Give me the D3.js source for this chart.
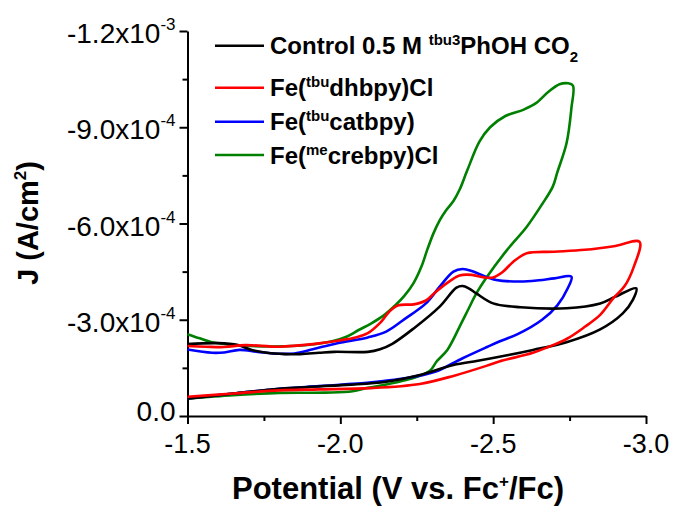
<!DOCTYPE html>
<html>
<head>
<meta charset="utf-8">
<script src="https://cdn.jsdelivr.net/npm/d3@7"></script>
<style>
  html, body { margin: 0; padding: 0; background: #ffffff; }
  svg { display: block; font-family: "Liberation Sans", Arial, Helvetica, sans-serif; }
</style>
</head>
<body>
<svg id="chart" width="688" height="506"></svg>
<script>
// ---- series: [potential (V vs. Fc+/Fc), current density (A/cm²)] ----
// each scan runs from -1.5 V out to the switching potential and back
const controlScan = [
  [-1.50, -2.24e-4], [-1.60, -2.27e-4], [-1.665, -2.21e-4], [-1.71, -2.06e-4],
  [-1.76, -1.97e-4], [-1.82, -1.93e-4], [-1.87, -1.93e-4], [-1.93, -1.97e-4],
  [-1.98, -2.00e-4], [-2.09, -2.00e-4], [-2.13, -2.08e-4], [-2.17, -2.25e-4],
  [-2.24, -2.73e-4], [-2.325, -3.41e-4], [-2.38, -4.00e-4], [-2.40, -4.05e-4],
  [-2.42, -3.98e-4], [-2.445, -3.82e-4], [-2.50, -3.51e-4], [-2.59, -3.39e-4],
  [-2.74, -3.36e-4], [-2.85, -3.51e-4], [-2.90, -3.72e-4], [-2.968, -3.98e-4],
  [-2.957, -3.62e-4], [-2.924, -3.20e-4], [-2.85, -2.70e-4], [-2.74, -2.30e-4],
  [-2.63, -2.06e-4], [-2.55, -1.90e-4], [-2.45, -1.72e-4], [-2.37, -1.59e-4],
  [-2.26, -1.28e-4], [-2.15, -1.07e-4], [-2.02, -0.97e-4], [-1.80, -0.85e-4],
  [-1.65, -0.70e-4], [-1.50, -0.54e-4]
];

const dhbpyScan = [
  [-1.50, -2.18e-4], [-1.56, -2.16e-4], [-1.62, -2.15e-4], [-1.69, -2.21e-4],
  [-1.80, -2.16e-4], [-1.91, -2.24e-4], [-2.00, -2.36e-4], [-2.05, -2.45e-4],
  [-2.09, -2.58e-4], [-2.13, -2.90e-4], [-2.16, -3.25e-4], [-2.19, -3.45e-4],
  [-2.24, -3.48e-4], [-2.28, -3.60e-4], [-2.31, -3.85e-4], [-2.35, -4.15e-4],
  [-2.39, -4.38e-4], [-2.43, -4.40e-4], [-2.47, -4.32e-4], [-2.50, -4.32e-4],
  [-2.53, -4.48e-4], [-2.565, -4.80e-4], [-2.61, -5.07e-4], [-2.70, -5.12e-4],
  [-2.80, -5.18e-4], [-2.90, -5.30e-4], [-2.979, -5.43e-4],
  [-2.96, -4.65e-4], [-2.93, -4.05e-4], [-2.894, -3.68e-4], [-2.85, -3.15e-4],
  [-2.80, -2.78e-4], [-2.74, -2.40e-4], [-2.68, -2.15e-4], [-2.63, -1.97e-4],
  [-2.52, -1.70e-4], [-2.48, -1.57e-4], [-2.37, -1.25e-4], [-2.26, -1.00e-4],
  [-2.10, -0.87e-4], [-1.93, -0.83e-4], [-1.80, -0.80e-4], [-1.65, -0.70e-4],
  [-1.50, -0.60e-4]
];

const catbpyScan = [
  [-1.50, -2.07e-4], [-1.58, -1.97e-4], [-1.62, -1.98e-4], [-1.67, -2.06e-4],
  [-1.73, -2.00e-4], [-1.80, -1.94e-4], [-1.85, -1.95e-4], [-1.91, -2.08e-4],
  [-1.99, -2.27e-4], [-2.09, -2.45e-4], [-2.15, -2.63e-4], [-2.21, -3.02e-4],
  [-2.28, -3.51e-4], [-2.325, -4.03e-4], [-2.37, -4.50e-4], [-2.40, -4.58e-4],
  [-2.43, -4.52e-4], [-2.46, -4.40e-4], [-2.51, -4.24e-4], [-2.59, -4.19e-4],
  [-2.65, -4.23e-4], [-2.70, -4.29e-4], [-2.756, -4.34e-4],
  [-2.744, -3.98e-4], [-2.71, -3.45e-4], [-2.66, -3.00e-4], [-2.58, -2.55e-4],
  [-2.52, -2.32e-4], [-2.48, -2.15e-4], [-2.40, -1.80e-4], [-2.31, -1.38e-4],
  [-2.205, -1.17e-4], [-2.04, -1.00e-4], [-1.93, -0.93e-4], [-1.80, -0.85e-4],
  [-1.65, -0.70e-4], [-1.50, -0.55e-4]
];

const crebpyScan = [
  [-1.50, -2.55e-4], [-1.54, -2.42e-4], [-1.58, -2.30e-4], [-1.69, -2.19e-4],
  [-1.86, -2.19e-4], [-1.97, -2.32e-4], [-2.02, -2.47e-4], [-2.06, -2.68e-4],
  [-2.10, -2.88e-4], [-2.14, -3.12e-4], [-2.18, -3.45e-4], [-2.21, -3.75e-4],
  [-2.24, -4.15e-4], [-2.265, -4.65e-4], [-2.285, -5.20e-4], [-2.305, -5.70e-4],
  [-2.325, -6.10e-4], [-2.345, -6.40e-4], [-2.37, -6.70e-4], [-2.39, -7.05e-4],
  [-2.415, -7.65e-4], [-2.455, -8.55e-4], [-2.49, -9.00e-4], [-2.54, -9.35e-4],
  [-2.60, -9.55e-4], [-2.64, -9.75e-4], [-2.68, -1.010e-3], [-2.717, -1.034e-3],
  [-2.745, -1.037e-3], [-2.761, -1.030e-3],
  [-2.756, -9.60e-4], [-2.74, -8.50e-4], [-2.71, -7.60e-4], [-2.695, -7.15e-4],
  [-2.66, -6.60e-4], [-2.61, -5.90e-4], [-2.545, -5.17e-4], [-2.48, -4.34e-4],
  [-2.445, -3.82e-4], [-2.42, -3.35e-4], [-2.39, -2.78e-4], [-2.35, -2.06e-4],
  [-2.315, -1.70e-4], [-2.295, -1.43e-4], [-2.26, -1.25e-4], [-2.215, -1.12e-4],
  [-2.15, -0.98e-4], [-2.09, -0.88e-4], [-2.04, -0.77e-4], [-1.95, -0.73e-4],
  [-1.80, -0.72e-4], [-1.65, -0.65e-4], [-1.50, -0.55e-4]
];

// legend entries (rich text: plain, superscript and subscript runs)
const legendLabels = [
  [{ t: "Control 0.5 M " }, { t: "tbu3", sup: true }, { t: "PhOH CO" }, { t: "2", sub: true }],
  [{ t: "Fe(" }, { t: "tbu", sup: true }, { t: "dhbpy)Cl" }],
  [{ t: "Fe(" }, { t: "tbu", sup: true }, { t: "catbpy)" }],
  [{ t: "Fe(" }, { t: "me", sup: true }, { t: "crebpy)Cl" }]
];
const seriesColors = ["#000000", "#ff0000", "#0000ff", "#008000"];

// axis ticks
const xTicks = [-1.5, -2.0, -2.5, -3.0];
const xTickLabels = ["-1.5", "-2.0", "-2.5", "-3.0"];
const xMinorTicks = [-1.75, -2.25, -2.75];
const yTicks = [0, -3e-4, -6e-4, -9e-4, -1.2e-3];
const yTickMantissa = ["0.0", "-3.0", "-6.0", "-9.0", "-1.2"];
const yTickExponent = ["", "-4", "-4", "-4", "-3"];
const yMinorTicks = [-1.5e-4, -4.5e-4, -7.5e-4, -1.05e-3];

// ---- drawing ----
const svg = d3.select("#chart");

const x = d3.scaleLinear().domain([-1.5, -3.0]).range([187.5, 646]);
const y = d3.scaleLinear().domain([0, -1.2e-3]).range([416, 31]);

function richText(sel, parts, baseSize, smallSize, supShift, subShift) {
  let shift = 0;
  parts.forEach(p => {
    const target = p.sup ? -supShift : (p.sub ? subShift : 0);
    sel.append("tspan")
      .attr("dy", target - shift)
      .style("font-size", (p.sup || p.sub) ? smallSize + "px" : baseSize + "px")
      .text(p.t);
    shift = target;
  });
}

// x axis: major + minor ticks
const xAxisG = svg.append("g").attr("transform", `translate(0,${y(0)})`);
xAxisG.call(d3.axisBottom(x).tickValues(xTicks).tickSize(8).tickSizeOuter(0).tickFormat(""));
xAxisG.append("g").call(d3.axisBottom(x).tickValues(xMinorTicks).tickSize(5).tickSizeOuter(0).tickFormat(""))
  .select(".domain").remove();
xAxisG.selectAll("path, line").attr("stroke", "#000").attr("stroke-width", 2);

svg.append("g").selectAll("text").data(xTicks).join("text")
  .attr("x", d => x(d))
  .attr("y", y(0) + 37)
  .attr("text-anchor", "middle")
  .style("font-size", "27px")
  .attr("fill", "#000")
  .text((d, i) => xTickLabels[i]);

// y axis: major + minor ticks
const yAxisG = svg.append("g").attr("transform", `translate(${x(-1.5)},0)`);
yAxisG.call(d3.axisLeft(y).tickValues(yTicks).tickSize(8).tickSizeOuter(0).tickFormat(""));
yAxisG.append("g").call(d3.axisLeft(y).tickValues(yMinorTicks).tickSize(5).tickSizeOuter(0).tickFormat(""))
  .select(".domain").remove();
yAxisG.selectAll("path, line").attr("stroke", "#000").attr("stroke-width", 2);

svg.append("g").selectAll("text").data(yTicks).join("text")
  .attr("x", x(-1.5) - 12)
  .attr("y", (d, i) => y(d) + (yTickExponent[i] ? 12 : 5))
  .attr("text-anchor", "end")
  .attr("fill", "#000")
  .each(function (d, i) {
    const parts = [{ t: yTickMantissa[i] + (yTickExponent[i] ? "x10" : "") }];
    if (yTickExponent[i]) parts.push({ t: yTickExponent[i], sup: true });
    richText(d3.select(this), parts, 28, 17, 13, 0);
  });

// axis titles
const xTitle = svg.append("text")
  .attr("x", 398).attr("y", 499)
  .attr("text-anchor", "middle")
  .style("font-weight", "bold")
  .attr("fill", "#000");
richText(xTitle, [{ t: "Potential (V vs. Fc" }, { t: "+", sup: true }, { t: "/Fc)" }], 31, 17, 12, 0);

const yTitle = svg.append("text")
  .attr("transform", "translate(38,223) rotate(-90)")
  .attr("text-anchor", "middle")
  .style("font-weight", "bold")
  .attr("fill", "#000");
richText(yTitle, [{ t: "J (A/cm" }, { t: "2", sup: true }, { t: ")" }], 29, 17, 12, 0);

// voltammograms
const line = d3.line()
  .x(d => x(d[0]))
  .y(d => y(d[1]))
  .curve(d3.curveCatmullRom.alpha(0.5));

const scans = [crebpyScan, catbpyScan, controlScan, dhbpyScan];
const scanColors = [seriesColors[3], seriesColors[2], seriesColors[0], seriesColors[1]];
svg.append("g").selectAll("path").data(scans).join("path")
  .attr("d", d => line(d))
  .attr("fill", "none")
  .attr("stroke", (d, i) => scanColors[i])
  .attr("stroke-width", 2.6)
  .attr("stroke-linejoin", "round");

// legend
const legendRows = [45.7, 87.7, 121.7, 155];
const legend = svg.append("g");
legendLabels.forEach((parts, i) => {
  legend.append("line")
    .attr("x1", 215).attr("x2", 264)
    .attr("y1", legendRows[i]).attr("y2", legendRows[i])
    .attr("stroke", seriesColors[i]).attr("stroke-width", 2.4);
  const t = legend.append("text")
    .attr("x", 270).attr("y", legendRows[i] + 8.5)
    .style("font-weight", "bold")
    .attr("fill", "#000");
  richText(t, parts, 24, 15, 9, 8);
});
</script>
</body>
</html>
